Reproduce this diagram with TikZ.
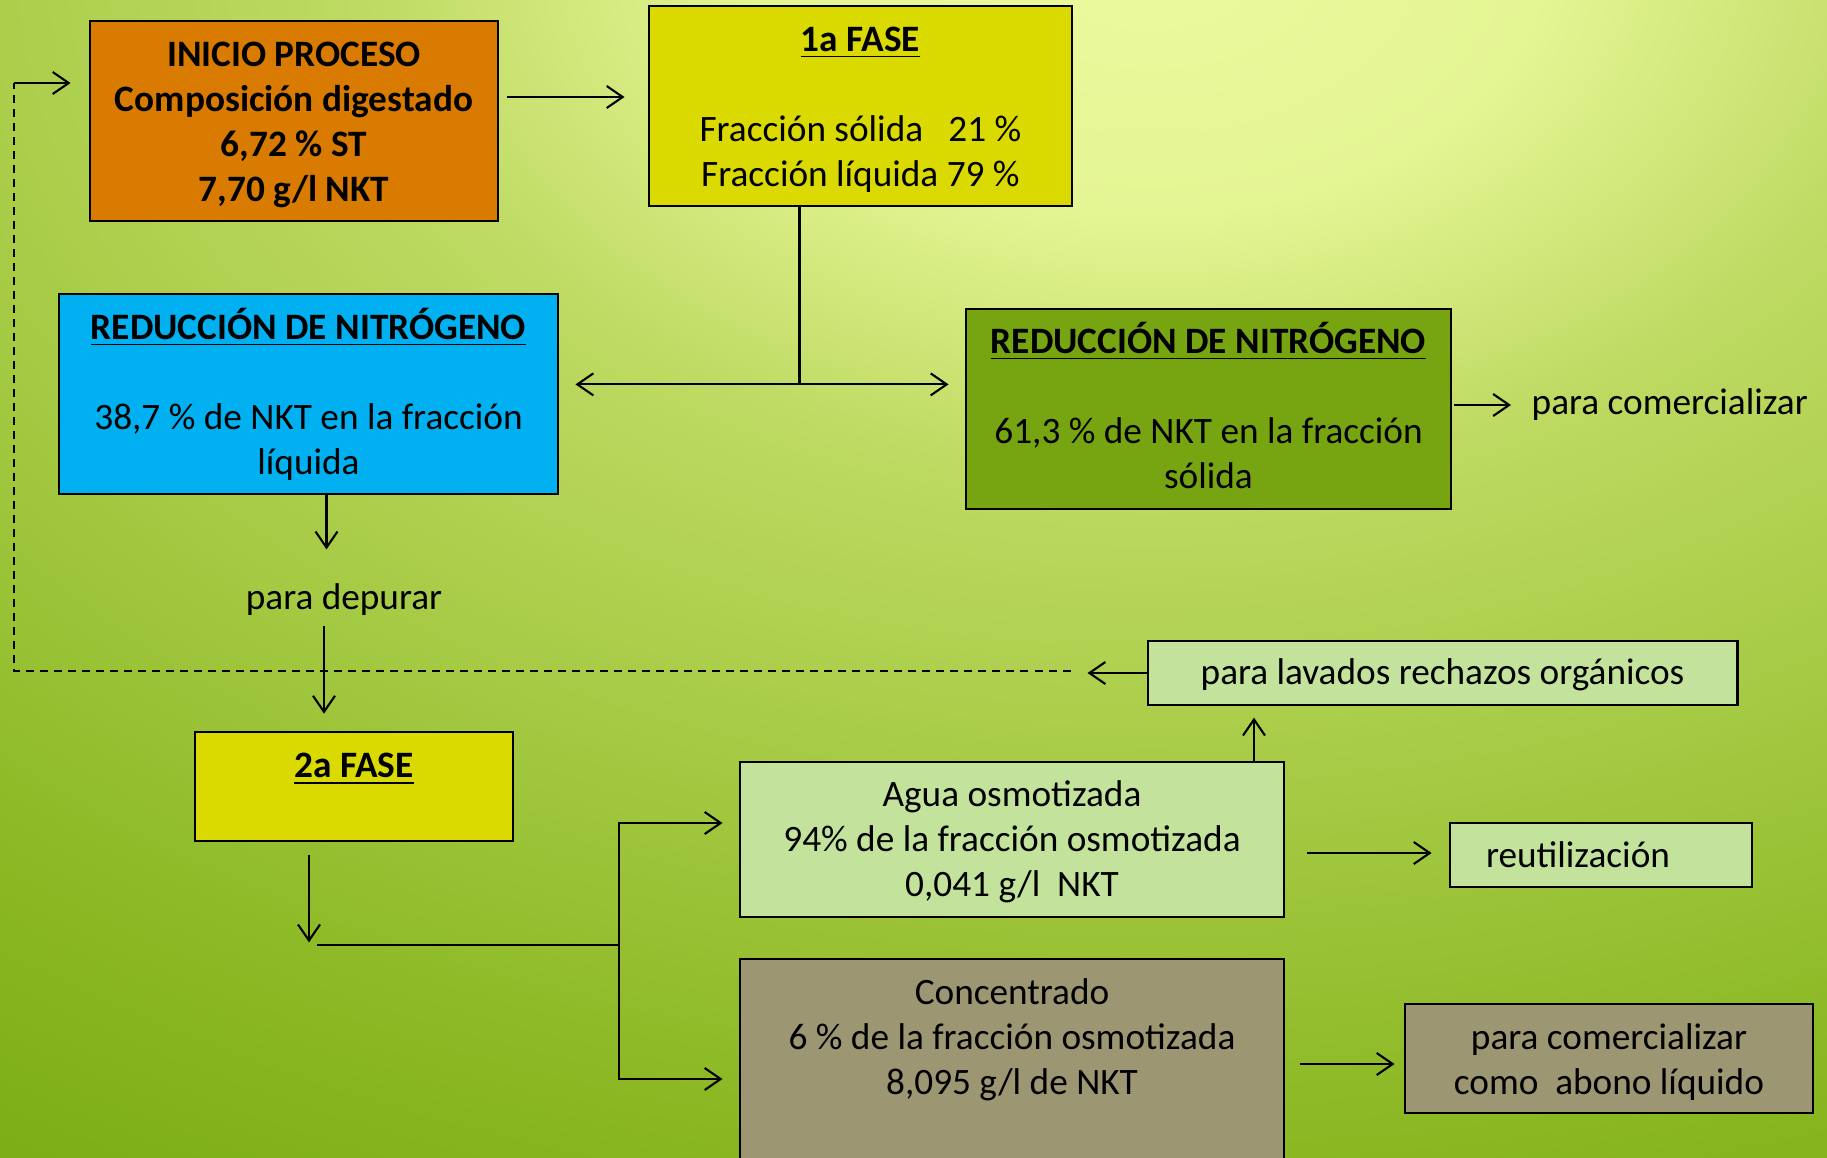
\documentclass[tikz,border=0pt]{standalone}
\usepackage{fontspec}
\setmainfont{Carlito}
\usetikzlibrary{positioning,calc,arrows.meta}

\definecolor{bglight}{HTML}{ECFA9E}
\definecolor{bglight2}{HTML}{E4F594}
\definecolor{bgmid}{HTML}{BEDA62}
\definecolor{bgmid2}{HTML}{A4C942}
\definecolor{bgdark}{HTML}{8AB722}
\definecolor{bgdarker}{HTML}{7AAC14}
\definecolor{cinicio}{HTML}{D97B00}
\definecolor{cfase}{HTML}{DADA00}
\definecolor{cliq}{HTML}{00B0F0}
\definecolor{csol}{HTML}{77A512}
\definecolor{cagua}{HTML}{C3E39C}
\definecolor{cconc}{HTML}{9C9673}

\pgfdeclareradialshading{fondo}{\pgfpointorigin}{%
  color(0bp)=(bglight); color(4.5bp)=(bglight2); color(9bp)=(bgmid);
  color(14.75bp)=(bgmid2); color(20.5bp)=(bgdark); color(25bp)=(bgdarker);
  color(50bp)=(bgdarker)}

% ajuste fino de la posicion vertical del texto
\newcommand\bajo[2]{\raisebox{0pt}[\dimexpr\height+#1\relax]{#2}}
\newcommand\subo[2]{\raisebox{0pt}[\height][\dimexpr\depth+#1\relax]{#2}}

\tikzset{
  txt/.style={font=\fontsize{10.6}{12.8}\selectfont, align=center, inner sep=0pt},
  caja/.style={txt, draw=black, line width=0.75pt},
  arr/.style={line width=0.6pt, -{Straight Barb[length=1.6mm,width=2.2mm]}},
  lin/.style={line width=0.6pt},
}

\begin{document}
\begin{tikzpicture}[x=0.01cm, y=-0.01cm]
  \clip (0,0) rectangle (1827,1157);
  \useasboundingbox (0,0) rectangle (1827,1157);
  \fill[bgdarker] (0,0) rectangle (1827,1157);
  \shade[shading=fondo] (1150,-50) ellipse [x radius=2200, y radius=1467];

  % primera fase
  \node[caja, fill=cinicio, minimum width=4.08cm, minimum height=2cm] (inicio) at (294,121)
    {\bajo{2pt}{\textbf{INICIO PROCESO}}\\\textbf{Composición digestado}\\\textbf{6,72 \% ST}\\\textbf{7,70 g/l NKT}};
  \node[caja, fill=cfase, minimum width=4.23cm, minimum height=2cm] (fase1) at (860.5,106)
    {\bajo{2pt}{\underline{\textbf{1a FASE}}}\\\mbox{}\\Fracción sólida\ \ \ 21 \%\\Fracción líquida 79 \%};
  \node[caja, fill=cliq, minimum width=4.99cm, minimum height=2cm] (redliq) at (308.5,394)
    {\underline{\textbf{REDUCCIÓN DE NITRÓGENO}}\\\mbox{}\\38,7 \% de NKT en la fracción\\líquida};
  \node[caja, fill=csol, minimum width=4.85cm, minimum height=2cm] (redsol) at (1208.5,409)
    {\underline{\textbf{REDUCCIÓN DE NITRÓGENO}}\\\mbox{}\\61,3 \% de NKT en la fracción\\\subo{2pt}{sólida}};
  \node[txt, anchor=west] (comerc) at (1531,405) {para comercializar};
  \node[txt] (depurar) at (344,600) {para depurar};

  % segunda fase
  \node[caja, fill=cfase, minimum width=3.18cm, minimum height=1.09cm] (fase2) at (354,786.5) {};
  \node[txt, below=0.22cm of fase2.north] (fase2tit) {\underline{\textbf{2a FASE}}};
  \node[caja, fill=cagua, minimum width=5.89cm, minimum height=0.64cm] (lavados) at (1442.5,673)
    {\bajo{1.2pt}{para lavados rechazos orgánicos}};
  \node[caja, fill=cagua, minimum width=5.44cm, minimum height=1.55cm] (agua) at (1012,839.5)
    {\bajo{1.2pt}{Agua osmotizada}\\94\% de la fracción osmotizada\\0,041 g/l\ \ NKT};
  \node[caja, fill=cagua, minimum width=3.02cm, minimum height=0.64cm] (reutil) at (1601,855) {};
  \node[txt] (reutiltxt) at (1578,855) {reutilización};
  \node[caja, fill=cconc, minimum width=5.44cm, minimum height=2.4cm] (conc) at (1012,1079)
    {\bajo{1.2pt}{Concentrado}\\6 \% de la fracción osmotizada\\8,095 g/l de NKT\\\mbox{}\\\mbox{}};
  \node[caja, fill=cconc, minimum width=4.08cm, minimum height=1.09cm] (abono) at (1609,1058.5)
    {\bajo{2pt}{para comercializar}\\como\ \ abono líquido};

  % conexiones
  \draw[arr] ($(inicio.east)+(8,-24)$) -- ($(fase1.west |- inicio.east)+(-23,-24)$);
  \coordinate (split) at ($(fase1.south)+(-61,177)$);
  \draw[lin] ($(fase1.south)+(-61,0)$) -- (split);
  \draw[arr] (split) -- ($(redliq.east |- split)+(16,0)$);
  \draw[arr] (split) -- ($(redsol.west |- split)+(-16,0)$);
  \draw[arr] ($(redsol.east |- comerc.west)+(2,0)$) -- ($(comerc.west)+(-20,0)$);
  \draw[arr] ($(redliq.south)+(18,0)$) -- ($(redliq.south)+(18,54)$);
  \draw[arr] ($(fase2.north)+(-30,-105)$) -- ($(fase2.north)+(-30,-17)$);

  % retorno
  \coordinate (ret) at ($(lavados.west)+(-76,-2)$);
  \coordinate (retcorner) at (14,671);
  \coordinate (retup) at (14,83);
  \draw[arr] (lavados.west) -- ($(lavados.west)+(-59,0)$);
  \draw[lin, dash pattern=on 0.08cm off 0.06cm] (ret) -- (retcorner) -- (retup);
  \draw[arr] (retup) -- ($(inicio.west |- retup)+(-18,0)$);

  % osmosis
  \coordinate (fork) at ($(fase2.south)+(265,103)$);
  \draw[arr] ($(fase2.south)+(-45,13)$) -- ($(fase2.south)+(-45,100)$);
  \draw[lin] ($(fase2.south)+(-37,103)$) -- (fork);
  \draw[arr] (fork) |- ($(agua.west)+(-16,-16.5)$);
  \draw[arr] (fork) |- ($(conc.west)+(-16,0)$);
  \draw[arr] ($(agua.north)+(242,0)$) -- ($(agua.north)+(242,-43)$);
  \draw[arr] ($(agua.east |- reutil.west)+(22,-2)$) -- ($(reutil.west)+(-17,-2)$);
  \draw[arr] ($(conc.east)+(15,-15)$) -- ($(abono.west)+(-9,5.5)$);
\end{tikzpicture}
\end{document}
